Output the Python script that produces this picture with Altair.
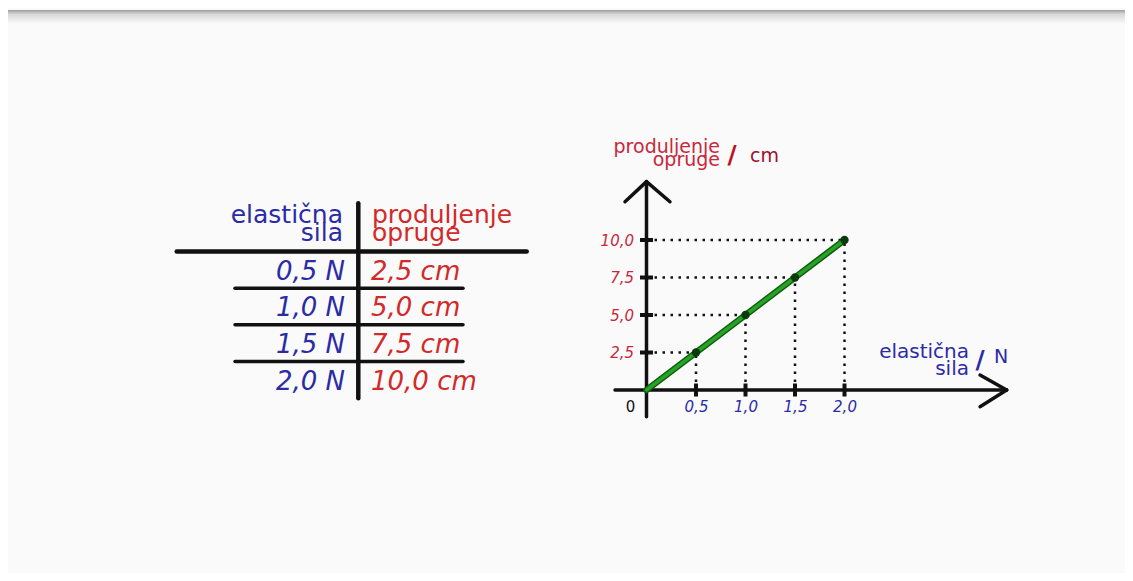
import altair as alt
import pandas as pd

# ---------------- data ----------------
force = [0.5, 1.0, 1.5, 2.0]                 # elastična sila / N
extension = [2.5, 5.0, 7.5, 10.0]            # produljenje opruge / cm
force_text = ["0,5 N", "1,0 N", "1,5 N", "2,0 N"]
extension_text = ["2,5 cm", "5,0 cm", "7,5 cm", "10,0 cm"]
force_header = ["elastična", "sila"]
extension_header = ["produljenje", "opruge"]
y_title = ["produljenje", "opruge"]
y_unit = "cm"
x_title = ["elastična", "sila"]
x_unit = "N"
origin_label = "0"

# ---------------- style ----------------
W, H = 1117, 565
FONT = "DejaVu Sans"
BLUE = "#2b2ba6"
RED = "#d22a2a"
RED_T = "#c8283c"
DARKRED = "#9c1030"
INK = "#111111"

# ---------------- table ----------------
rows = list(range(1, len(force) + 1))
table_df = pd.DataFrame({"row": rows, "f": force_text, "e": extension_text})
ty = alt.Scale(domain=[1, 4], range=[263.7, 373.7], nice=False, zero=False)


def TY(field):
    return alt.Y(field, type="quantitative", scale=ty, axis=None)


HEADER_ROW = -0.55
head_df = pd.DataFrame({
    "row": [HEADER_ROW],
    "f": ["\n".join(force_header)],
    "e": ["\n".join(extension_header)],
})

head_left = alt.Chart(head_df).mark_text(
    align="right", baseline="middle", lineBreak="\n", lineHeight=18.5,
    font=FONT, fontSize=25, color=BLUE
).encode(x=alt.value(335), y=TY("row"), text="f:N")

head_right = alt.Chart(head_df).mark_text(
    align="left", baseline="middle", lineBreak="\n", lineHeight=18.5,
    font=FONT, fontSize=25, color=RED
).encode(x=alt.value(364), y=TY("row"), text="e:N")

val_left = alt.Chart(table_df).mark_text(
    align="right", baseline="middle", font=FONT, fontSize=26,
    fontStyle="italic", color=BLUE
).encode(x=alt.value(337), y=TY("row"), text="f:N")

val_right = alt.Chart(table_df).mark_text(
    align="left", baseline="middle", font=FONT, fontSize=26,
    fontStyle="italic", color=RED
).encode(x=alt.value(363), y=TY("row"), text="e:N")

top_line = alt.Chart(pd.DataFrame({"row": [0]})).transform_calculate(
    r="datum.row + 0.45"
).mark_rule(color=INK, strokeWidth=4.5, strokeCap="round").encode(
    x=alt.value(168.7), x2=alt.value(518.7), y=TY("r")
)

sep_lines = alt.Chart(table_df).transform_filter(
    "datum.row < 4"
).transform_calculate(r="datum.row + 0.45").mark_rule(
    color=INK, strokeWidth=3.5, strokeCap="round"
).encode(x=alt.value(227), x2=alt.value(455), y=TY("r"))

divider = alt.Chart(pd.DataFrame({"a": [-0.87], "b": [4.45]})).mark_rule(
    color=INK, strokeWidth=4.5, strokeCap="round"
).encode(x=alt.value(350.3), y=TY("a"), y2="b:Q")

shade = alt.Chart(pd.DataFrame({"k": [0]})).mark_rect(
    color=alt.LinearGradient(
        gradient="linear",
        stops=[alt.GradientStop(color="#9c9c9c", offset=0),
               alt.GradientStop(color="#d8d8d8", offset=0.3),
               alt.GradientStop(color="#fafafa", offset=1)],
        x1=0, x2=0, y1=0, y2=1)
).encode(x=alt.value(-2), x2=alt.value(W), y=alt.value(2), y2=alt.value(16))

table = alt.layer(shade, top_line, sep_lines, divider,
                  head_left, head_right, val_left, val_right)

# ---------------- graph ----------------
xs = alt.Scale(domain=[0, 2], range=[638.5, 836.5], nice=False, zero=False)
ys = alt.Scale(domain=[0, 10], range=[382, 232], nice=False, zero=False)
num_expr = "replace(format(datum.value, '.1f'), '.', ',')"
xaxis = alt.Axis(orient="bottom", offset=-183, values=force, labelExpr=num_expr,
                 domain=False, ticks=False, grid=False, title=None,
                 labelColor=BLUE, labelFont=FONT, labelFontSize=15,
                 labelFontStyle="italic", labelPadding=9,
                 labelFlush=False, labelOverlap=False)
yaxis = alt.Axis(orient="left", offset=-638.5, values=extension, labelExpr=num_expr,
                 domain=False, ticks=False, grid=False, title=None,
                 labelColor=RED_T, labelFont=FONT, labelFontSize=15,
                 labelFontStyle="italic", labelPadding=13,
                 labelFlush=False, labelOverlap=False)


def GX(field):
    return alt.X(field, type="quantitative", scale=xs, axis=xaxis)


def GY(field):
    return alt.Y(field, type="quantitative", scale=ys, axis=yaxis)


pts = pd.DataFrame({"force": force, "ext": extension})
line_df = pd.DataFrame({"force": [0.0] + force, "ext": [0.0] + extension})

base = alt.Chart(pts).transform_calculate(zero="0")

guide_h = base.mark_rule(color=INK, strokeWidth=2.5, strokeDash=[2.5, 5.5]).encode(
    x=GX("zero"), x2="force:Q", y=GY("ext"))
guide_v = base.mark_rule(color=INK, strokeWidth=2.5, strokeDash=[2.5, 5.5]).encode(
    x=GX("force"), y=GY("zero"), y2="ext:Q")

# axis arrows (x from -0.32 to 3.64, y from -1.78 to 13.89), with arrow heads
arrows = pd.DataFrame({
    "x1": [-0.318, 3.369, 3.369, 0.0, -0.217, 0.237],
    "y1": [0.0, 1.0, -1.11, -1.78, 12.55, 12.55],
    "x2": [3.638, 3.638, 3.638, 0.0, 0.0, 0.0],
    "y2": [0.0, 0.0, 0.0, 13.89, 13.89, 13.89],
})
axes_lines = alt.Chart(arrows).mark_rule(
    color=INK, strokeWidth=3.5, strokeCap="round"
).encode(x=GX("x1"), x2="x2:Q", y=GY("y1"), y2="y2:Q")

xticks = base.mark_tick(orient="vertical", size=13, thickness=4, color=INK,
                        opacity=1).encode(x=GX("force"), y=GY("zero"))
yticks = base.mark_tick(orient="horizontal", size=13, thickness=4, color=INK,
                        opacity=1).encode(x=GX("zero"), y=GY("ext"))

line_out = alt.Chart(line_df).mark_line(
    color="#0e5a0e", strokeWidth=6.5, strokeCap="round"
).encode(x=GX("force"), y=GY("ext"))
line_in = alt.Chart(line_df).mark_line(
    color="#26a326", strokeWidth=3.5, strokeCap="round"
).encode(x=GX("force"), y=GY("ext"))

dots = alt.Chart(pts).mark_circle(size=70, color="#0b3a0b", opacity=1).encode(
    x=GX("force"), y=GY("ext"))

origin = base.transform_filter("datum.force == 2").mark_text(
    text=origin_label, font=FONT, fontSize=15, color=INK, dx=-16, dy=17,
    baseline="middle", align="center"
).encode(x=GX("zero"), y=GY("zero"))

titles = pd.DataFrame({"k": [0]})
y_title_t = alt.Chart(titles).mark_text(
    text="\n".join(y_title), lineBreak="\n", lineHeight=13, align="right",
    baseline="middle", font=FONT, fontSize=19, color=RED_T
).encode(x=alt.value(712), y=alt.value(138.5))
y_slash = alt.Chart(titles).mark_text(
    text="/", align="center", baseline="middle", font=FONT, fontSize=25,
    fontWeight="bold", color="#c01020"
).encode(x=alt.value(724), y=alt.value(147))
y_unit_t = alt.Chart(titles).mark_text(
    text=y_unit, align="left", baseline="middle", font=FONT, fontSize=19,
    color=DARKRED
).encode(x=alt.value(742), y=alt.value(148))

x_title_t = alt.Chart(titles).mark_text(
    text="\n".join(x_title), lineBreak="\n", lineHeight=16.5, align="right",
    baseline="middle", font=FONT, fontSize=20, color=BLUE
).encode(x=alt.value(961), y=alt.value(344))
x_slash = alt.Chart(titles).mark_text(
    text="/", align="center", baseline="middle", font=FONT, fontSize=25,
    fontWeight="bold", color=BLUE
).encode(x=alt.value(972), y=alt.value(352))
x_unit_t = alt.Chart(titles).mark_text(
    text=x_unit, align="left", baseline="middle", font=FONT, fontSize=19,
    color=BLUE
).encode(x=alt.value(986), y=alt.value(349))

graph = alt.layer(guide_h, guide_v, axes_lines, xticks, yticks,
                  line_out, line_in, dots, origin,
                  y_title_t, y_slash, y_unit_t, x_title_t, x_slash, x_unit_t)

chart = alt.layer(graph, table).resolve_scale(
    x="independent", y="independent"
).properties(
    width=W, height=H,
    autosize=alt.AutoSizeParams(type="none"),
    padding=0,
    background="#fafafa",
).configure_view(stroke=None)

chart.save("out.html", embed_options={"renderer": "svg", "actions": False})
